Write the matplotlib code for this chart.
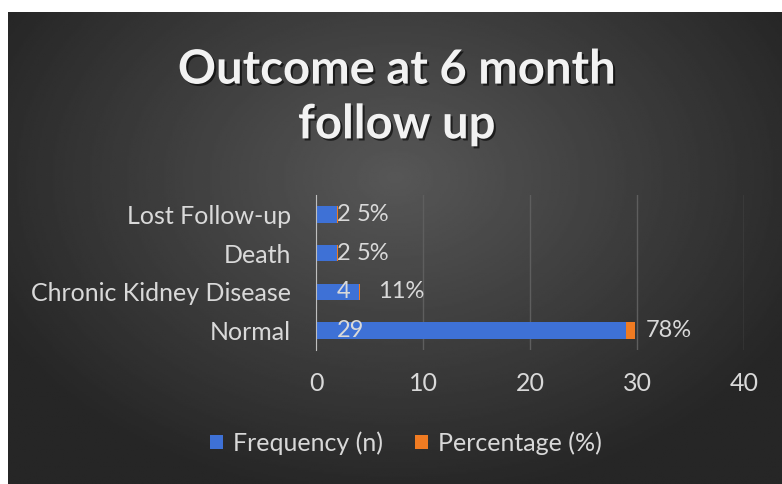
import numpy as np
import matplotlib
matplotlib.use('Agg')
import matplotlib.pyplot as plt
import matplotlib.patheffects as pe

categories = ['Normal', 'Chronic Kidney Disease', 'Death', 'Lost Follow-up']
frequency = [29, 4, 2, 2]
percentage = [0.78, 0.11, 0.05, 0.05]
x_ticks = [0, 10, 20, 30, 40]

plt.rcParams['font.family'] = ['Lato', 'DejaVu Sans']
text_col = '#d9d9d9'
blue = '#3e71d6'
orange = '#f07b22'

fig = plt.figure(figsize=(7.82, 4.84), dpi=100)
fig.patch.set_facecolor('white')

# dark panel with a soft radial gradient
bg = fig.add_axes([8 / 782, 0, 1 - 8 / 782, 1 - 12 / 484])
gx, gy = np.meshgrid(np.linspace(-1, 1, 400), np.linspace(-1, 1, 250))
r = np.sqrt((gx / 1.1) ** 2 + ((gy + 0.3) / 1.3) ** 2)
shade = np.clip(0.34 - 0.18 * r, 0.15, 0.34)
bg.imshow(shade, cmap='gray', vmin=0, vmax=1, aspect='auto', extent=[0, 1, 0, 1])
bg.set_axis_off()

ax = fig.add_axes([316 / 782, 1 - 350 / 484, (744 - 316) / 782, 155 / 484])
ax.patch.set_alpha(0)
y = np.arange(len(categories))
ax.barh(y, frequency, height=0.42, color=blue, label='Frequency (n)', zorder=3)
ax.barh(y, percentage, left=frequency, height=0.42, color=orange, label='Percentage (%)', zorder=3)

for i in range(len(categories)):
    ax.annotate(str(frequency[i]), (0, y[i]), xytext=(15, 0), textcoords='offset points',
                ha='left', va='center', color=text_col, fontsize=17, zorder=4)
    ax.annotate(f'{percentage[i]:.0%}', (frequency[i], y[i]), xytext=(14, 0), textcoords='offset points',
                ha='left', va='center', color=text_col, fontsize=17, zorder=4)

ax.set_xlim(0, 40)
ax.set_ylim(-0.5, len(categories) - 0.5)
ax.set_xticks(x_ticks)
ax.set_yticks(y)
ax.set_yticklabels(categories)
ax.tick_params(axis='both', length=0, colors=text_col, labelsize=18)
ax.tick_params(axis='x', pad=16)
ax.tick_params(axis='y', pad=18)
ax.grid(axis='x', color='#5e5e5e', linewidth=1, zorder=0)
for s in ['top', 'right', 'bottom']:
    ax.spines[s].set_visible(False)
ax.spines['left'].set_color('#bfbfbf')
ax.spines['left'].set_zorder(5)

fig.text(397 / 782, 1 - 97 / 484, 'Outcome at 6 month\nfollow up', ha='center', va='center',
         color='#f2f2f2', fontsize=34, fontweight='bold', linespacing=1.3,
         path_effects=[pe.withSimplePatchShadow(offset=(1.5, -1.5), shadow_rgbFace='black', alpha=0.6)])

leg = fig.legend(loc='center', bbox_to_anchor=(406 / 782, 1 - 443 / 484), ncol=2, frameon=False,
                 fontsize=18, handlelength=0.5, handleheight=0.5, handletextpad=0.4, columnspacing=1.3)
for t in leg.get_texts():
    t.set_color(text_col)

fig.savefig('out.png', dpi=100, facecolor=fig.get_facecolor())
